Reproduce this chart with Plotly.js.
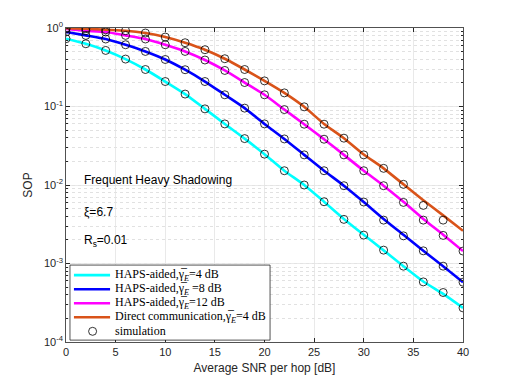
<!DOCTYPE html>
<html>
<head>
<meta charset="utf-8">
<script src="https://cdn.plot.ly/plotly-3.0.1.min.js"></script>
<style>
  html, body { margin: 0; padding: 0; background: #fff; }
  #sop { width: 512px; height: 384px; }
</style>
</head>
<body>
<div id="sop"></div>
<script>
// average SNR per hop [dB]
var snr = [0, 2, 4, 6, 8, 10, 12, 14, 16, 18, 20, 22, 24, 26, 28, 30, 32, 34, 36, 38, 40];
var snrDirectSim = [0, 2, 4, 6, 8, 10, 12, 14, 16, 18, 20, 22, 24, 26, 28, 30, 32, 34, 36, 38];

// analytical curves
var haps4 = [0.730, 0.630, 0.518, 0.402, 0.296, 0.208, 0.144, 0.0933, 0.0600, 0.0390, 0.0247,
             0.0152, 0.0100, 0.00612, 0.00370, 0.00232, 0.00147, 0.000925, 0.000590, 0.000410, 0.000272];
var haps8 = [0.889, 0.805, 0.724, 0.612, 0.503, 0.397, 0.294, 0.208, 0.141, 0.0953, 0.0600,
             0.0386, 0.0242, 0.0152, 0.0098, 0.00607, 0.00370, 0.00232, 0.00145, 0.000925, 0.000578];
var haps12 = [0.970, 0.924, 0.889, 0.805, 0.724, 0.612, 0.503, 0.391, 0.288, 0.202, 0.141,
              0.0914, 0.0595, 0.0383, 0.0242, 0.0152, 0.0098, 0.0061, 0.00370, 0.00232, 0.00144];
var direct4 = [0.995, 0.980, 0.950, 0.924, 0.863, 0.767, 0.649, 0.529, 0.406, 0.296, 0.212,
               0.149, 0.099, 0.0600, 0.0395, 0.0245, 0.0163, 0.0102, 0.0064, 0.0041, 0.00261];

// simulation points
var haps4Sim = [0.730, 0.630, 0.518, 0.402, 0.296, 0.208, 0.144, 0.0933, 0.0600, 0.0390, 0.0247,
                0.0152, 0.0100, 0.00612, 0.00365, 0.00230, 0.00148, 0.000925, 0.000583, 0.000427, 0.000272];
var haps8Sim = [0.889, 0.805, 0.724, 0.612, 0.503, 0.397, 0.294, 0.208, 0.141, 0.0953, 0.0600,
                0.0386, 0.0242, 0.0152, 0.0098, 0.00607, 0.00357, 0.00225, 0.00145, 0.000925, 0.000578];
var haps12Sim = [0.970, 0.924, 0.889, 0.805, 0.724, 0.612, 0.503, 0.391, 0.288, 0.202, 0.141,
                 0.0914, 0.0595, 0.0383, 0.0242, 0.0152, 0.0098, 0.0060, 0.00357, 0.00228, 0.00144];
var direct4Sim = [0.995, 0.980, 0.950, 0.924, 0.863, 0.767, 0.649, 0.529, 0.406, 0.296, 0.212,
                  0.149, 0.099, 0.0595, 0.0395, 0.0242, 0.0163, 0.0102, 0.0055, 0.00357];

var names = [
  'HAPS-aided,\u03b3\u0305<sub><i>E</i></sub>=4 dB',
  'HAPS-aided,\u03b3\u0305<sub><i>E</i></sub> =8 dB',
  'HAPS-aided,\u03b3\u0305<sub><i>E</i></sub>=12 dB',
  'Direct communication,\u03b3\u0305<sub><i>E</i></sub>=4 dB',
  'simulation'
];
var colors = ['#00ffff', '#0000ff', '#ff00ff', '#d95319'];

function curve(y, i) {
  return {
    x: snr, y: y, name: names[i], mode: 'lines', type: 'scatter', showlegend: false,
    line: {color: colors[i], width: 2.6, shape: 'spline', smoothing: 0.6}
  };
}
function sim(x, y) {
  return {
    x: x, y: y, name: 'simulation', mode: 'markers', type: 'scatter', showlegend: false,
    marker: {symbol: 'circle-open', size: 8, color: '#000', line: {width: 0.8, color: '#000'}}
  };
}

var data = [
  curve(haps4, 0), curve(haps8, 1), curve(haps12, 2), curve(direct4, 3),
  sim(snr, haps4Sim), sim(snr, haps8Sim), sim(snr, haps12Sim), sim(snrDirectSim, direct4Sim)
];

var sans = 'Liberation Sans, Arial, sans-serif';
var serif = 'Liberation Serif, Times New Roman, serif';
var axisFont = {family: sans, size: 11, color: '#262626'};

// legend box drawn by hand (MATLAB-like compact rows)
var legBox = {x0: 0.010, x1: 0.514, y0: 0.006, y1: 0.245};
var legRows = [0.213, 0.168, 0.1235, 0.079, 0.034];
var shapes = [{
  type: 'rect', xref: 'paper', yref: 'paper', layer: 'above',
  x0: legBox.x0, x1: legBox.x1, y0: legBox.y0, y1: legBox.y1,
  fillcolor: '#fff', line: {color: '#262626', width: 0.8}
}];
var annotations = [
  {xref: 'paper', yref: 'paper', x: 0.04, y: 0.516, xanchor: 'left', yanchor: 'middle', showarrow: false,
   text: 'Frequent Heavy Shadowing', font: {family: sans, size: 12, color: '#000'}},
  {xref: 'paper', yref: 'paper', x: 0.04, y: 0.415, xanchor: 'left', yanchor: 'middle', showarrow: false,
   text: '\u03be=6.7', font: {family: sans, size: 12, color: '#000'}},
  {xref: 'paper', yref: 'paper', x: 0.04, y: 0.321, xanchor: 'left', yanchor: 'middle', showarrow: false,
   text: 'R<sub>s</sub>=0.01', font: {family: sans, size: 12, color: '#000'}}
];
legRows.forEach(function (ry, i) {
  if (i < 4) {
    shapes.push({type: 'line', xref: 'paper', yref: 'paper', layer: 'above',
      x0: 0.020, x1: 0.111, y0: ry, y1: ry, line: {color: colors[i], width: 2.6}});
  } else {
    shapes.push({type: 'circle', xref: 'paper', yref: 'paper', layer: 'above',
      xsizemode: 'pixel', ysizemode: 'pixel', xanchor: 0.067, yanchor: ry,
      x0: -4, x1: 4, y0: -4, y1: 4, line: {color: '#000', width: 0.8}});
  }
  annotations.push({xref: 'paper', yref: 'paper', x: 0.118, y: ry, xanchor: 'left', yanchor: 'middle',
    showarrow: false, text: names[i], font: {family: serif, size: 12, color: '#000'}});
});

var layout = {
  width: 512, height: 384,
  margin: {l: 66, r: 49, t: 28, b: 42},
  paper_bgcolor: '#fff', plot_bgcolor: '#fff',
  font: axisFont,
  showlegend: false,
  xaxis: {
    range: [0, 40], dtick: 5, tick0: 0,
    ticks: 'inside', ticklen: 4, tickcolor: '#262626',
    showline: true, linecolor: '#262626', linewidth: 0.8, mirror: 'ticks',
    showgrid: true, gridcolor: '#e3e3e3', gridwidth: 0.8,
    zeroline: false, tickfont: axisFont,
    title: {text: 'Average SNR per hop [dB]', font: {family: sans, size: 12, color: '#262626'}, standoff: 6}
  },
  yaxis: {
    type: 'log', range: [-4, 0],
    tickvals: [1, 0.1, 0.01, 0.001, 0.0001],
    ticktext: ['10<sup>0</sup>', '10<sup>-1</sup>', '10<sup>-2</sup>', '10<sup>-3</sup>', '10<sup>-4</sup>'],
    ticks: 'inside', ticklen: 4, tickcolor: '#262626',
    showline: true, linecolor: '#262626', linewidth: 0.8, mirror: 'ticks',
    showgrid: true, gridcolor: '#e3e3e3', gridwidth: 0.8,
    minor: {dtick: 'D1', showgrid: true, gridcolor: '#dadada', griddash: 'dot', gridwidth: 0.8,
            ticks: 'inside', ticklen: 2, tickcolor: '#262626'},
    zeroline: false, tickfont: axisFont,
    title: {text: 'SOP', font: {family: sans, size: 12, color: '#262626'}, standoff: 8}
  },
  shapes: shapes,
  annotations: annotations
};

Plotly.newPlot('sop', data, layout, {staticPlot: true});
</script>
</body>
</html>
